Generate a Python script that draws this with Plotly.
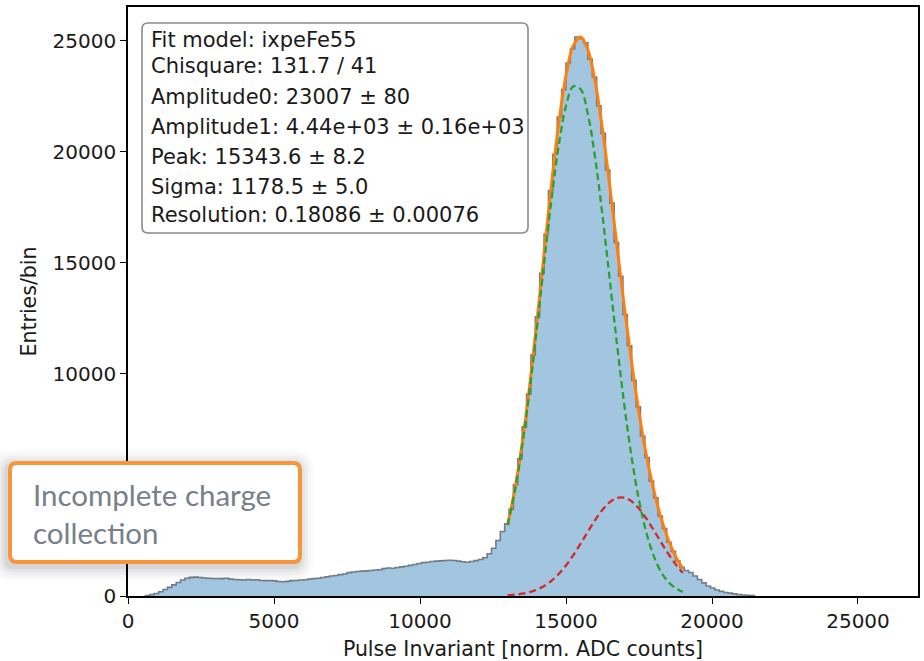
import plotly.graph_objects as go

# ---------------- data ----------------
bin_start = 600
bin_width = 150
counts = [
    20, 60, 110, 190, 290, 390, 500, 610, 720, 800,
    840, 850, 830, 810, 800, 790, 790, 780, 800, 760,
    740, 730, 720, 740, 720, 730, 700, 690, 700, 680,
    650, 640, 660, 690, 700, 720, 730, 760, 780, 800,
    830, 860, 900, 920, 960, 990, 1050, 1080, 1100, 1120,
    1130, 1150, 1170, 1180, 1230, 1260, 1250, 1280, 1310, 1340,
    1380, 1420, 1460, 1500, 1520, 1550, 1570, 1580, 1600, 1610,
    1600, 1570, 1540, 1520, 1550, 1590, 1640, 1720, 1900, 2150,
    2500, 2900, 3250,
    3900, 5010, 6180, 7610, 9090, 10850, 12560, 14520, 16290, 18250,
    19880, 21560, 22790, 23990, 24620, 25160, 25080, 24900, 24160, 23360,
    22060, 20820, 19170, 17680, 15910, 14390, 12670, 11260, 9710, 8510,
    7200, 6230, 5170, 4420, 3600, 3040, 2420, 2010, 1580, 1290,
    1150, 1060, 900, 740, 590, 450, 360, 270, 210, 160,
    130, 95, 65, 45, 30, 15,
]

fit_x = [13000, 13250, 13500, 13750, 14000, 14250, 14500, 14750, 15000,
         15250, 15500, 15750, 16000, 16250, 16500, 16750, 17000, 17250,
         17500, 17750, 18000, 18250, 18500, 18750, 19000]
fit_total = [3215, 4807, 6872, 9397, 12299, 15409, 18490, 21254, 23426,
             24772, 25160, 24578, 23123, 20997, 18438, 15698, 12991, 10475,
             8248, 6351, 4784, 3527, 2542, 1788, 1224]
fit_main = [3184, 4749, 6769, 9222, 12012, 14957, 17808, 20265, 22050,
            22935, 22805, 21680, 19701, 17117, 14216, 11287, 8568, 6217,
            4314, 2862, 1813, 1099, 637, 353, 187]
fit_beta = [31, 58, 103, 175, 287, 452, 682, 989, 1376,
            1837, 2355, 2898, 3422, 3880, 4222, 4411, 4423, 4258,
            3934, 3489, 2971, 2428, 1905, 1435, 1037]

x_ticks = [0, 5000, 10000, 15000, 20000, 25000]
y_ticks = [0, 5000, 10000, 15000, 20000, 25000]

info_lines = [
    "Fit model: ixpeFe55",
    "Chisquare: 131.7 / 41",
    "Amplitude0: 23007 ± 80",
    "Amplitude1: 4.44e+03 ± 0.16e+03",
    "Peak: 15343.6 ± 8.2",
    "Sigma: 1178.5 ± 5.0",
    "Resolution: 0.18086 ± 0.00076",
]
callout_text = "Incomplete charge<br>collection"

# ---------------- layout geometry (pixels) ----------------
W, H = 924, 661
L, R, T, B = 128, 918, 7, 596
PW, PH = R - L, B - T


def px2paper(px, py):
    return (px - L) / PW, (B - py) / PH


def rounded_rect(x0, y0, x1, y1, r):
    """SVG path in paper coords for a rounded rect given pixel corners."""
    ax0, ay0 = px2paper(x0, y0)
    ax1, ay1 = px2paper(x1, y1)
    rx, ry = r / PW, r / PH
    return (f"M {ax0+rx},{ay0} L {ax1-rx},{ay0} Q {ax1},{ay0} {ax1},{ay0-ry} "
            f"L {ax1},{ay1+ry} Q {ax1},{ay1} {ax1-rx},{ay1} "
            f"L {ax0+rx},{ay1} Q {ax0},{ay1} {ax0},{ay1+ry} "
            f"L {ax0},{ay0-ry} Q {ax0},{ay0} {ax0+rx},{ay0} Z")


# histogram step outline
edges = [bin_start + i * bin_width for i in range(len(counts) + 1)]
hx = [edges[0]] + edges[:-1] + [edges[-1], edges[-1]]
hy = [0] + counts + [counts[-1], 0]

fig = go.Figure()
fig.add_trace(go.Scatter(
    x=hx, y=hy, mode="lines", line=dict(shape="hv", color="#737d86", width=1.6),
    fill="tozeroy", fillcolor="rgba(163,198,224,1)", hoverinfo="skip",
))
fig.add_trace(go.Scatter(
    x=fit_x, y=fit_total, mode="lines",
    line=dict(color="#ff7f0e", width=3, shape="spline"),
))
fig.add_trace(go.Scatter(
    x=fit_x, y=fit_main, mode="lines",
    line=dict(color="#2ca02c", width=2.3, dash="7px,4px", shape="spline"),
))
fig.add_trace(go.Scatter(
    x=fit_x, y=fit_beta, mode="lines",
    line=dict(color="#d62728", width=2.3, dash="7px,4px", shape="spline"),
))

font_main = dict(family="DejaVu Sans", size=20, color="#1a1a1a")
font_box = dict(family="DejaVu Sans", size=21, color="#1a1a1a")
font_title = dict(family="DejaVu Sans", size=20.5, color="#1a1a1a")

shapes = []
# info box
shapes.append(dict(type="path", xref="paper", yref="paper",
                   path=rounded_rect(142, 23, 528, 233, 6),
                   line=dict(color="#8a8a8a", width=1.6),
                   fillcolor="rgba(255,255,255,0.85)", layer="above"))
# callout shadow
for i, a in enumerate([0.05, 0.04, 0.03, 0.02, 0.015]):
    g = 2 + 3 * i
    shapes.append(dict(type="path", xref="paper", yref="paper",
                       path=rounded_rect(8 - g - 2, 461 - g + 3, 302 + g - 2, 564 + g + 3, 8 + g),
                       line=dict(width=0), fillcolor=f"rgba(0,0,0,{a})", layer="above"))
shapes.append(dict(type="path", xref="paper", yref="paper",
                   path=rounded_rect(10, 463, 300, 562, 7),
                   line=dict(color="#f5963c", width=4),
                   fillcolor="white", layer="above"))

annotations = []
line_y = [40, 66, 97, 127, 157, 187, 215]
for txt, py in zip(info_lines, line_y):
    ax, ay = px2paper(149, py)
    annotations.append(dict(text=txt, xref="paper", yref="paper", x=ax, y=ay,
                            xanchor="left", yanchor="middle", showarrow=False,
                            font=font_box))
cx, cy = px2paper(31, 513)
annotations.append(dict(text=callout_text, xref="paper", yref="paper", x=cx, y=cy,
                        xanchor="left", yanchor="middle", align="left", showarrow=False,
                        font=dict(family="Lato", size=29.5, color="#78808a")))

fig.update_layout(
    width=W, height=H,
    margin=dict(l=L, r=W - R, t=T, b=H - B),
    paper_bgcolor="white", plot_bgcolor="white",
    showlegend=False,
    shapes=shapes, annotations=annotations,
    font=font_main,
)
axis_common = dict(showgrid=False, zeroline=False, showline=True, mirror=True,
                   linecolor="black", linewidth=1.6, ticks="outside", ticklen=6,
                   tickwidth=1.4, tickcolor="black", tickfont=font_main,
                   automargin=False)
fig.update_xaxes(range=[0, 27055], tickvals=x_ticks, ticktext=[str(v) for v in x_ticks],
                 title=dict(text="Pulse Invariant [norm. ADC counts]", font=font_title, standoff=11),
                 **axis_common)
fig.update_yaxes(range=[0, 26508], tickvals=y_ticks, ticktext=[str(v) for v in y_ticks],
                 title=dict(text="Entries/bin", font=font_title, standoff=10),
                 **axis_common)

fig.write_html("out.html", config={"displayModeBar": False},
               post_script="document.body.style.margin='0';document.body.style.padding='0';")
